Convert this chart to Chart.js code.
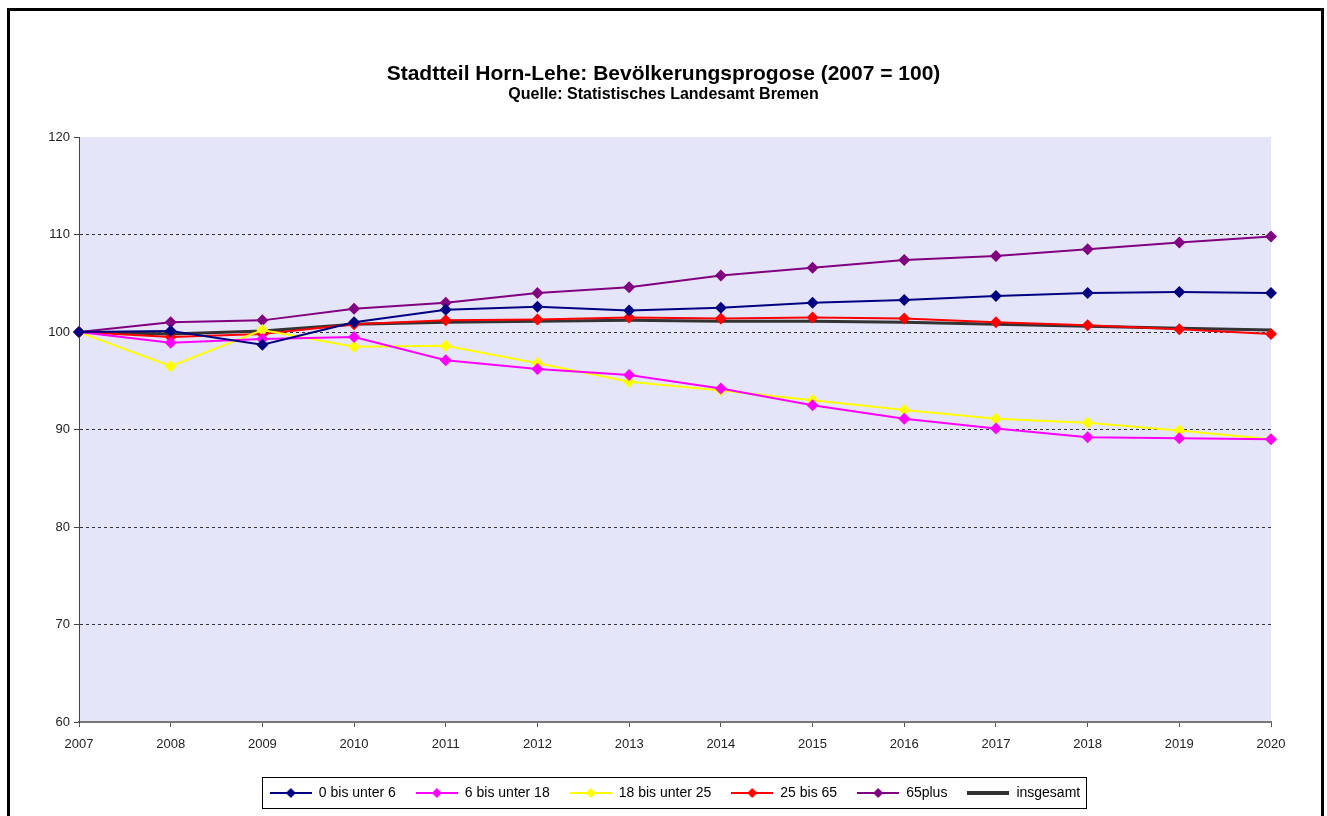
<!DOCTYPE html>
<html>
<head>
<meta charset="utf-8">
<title>Stadtteil Horn-Lehe: Bevölkerungsprogose</title>
<script src="https://cdn.jsdelivr.net/npm/chart.js@4/dist/chart.umd.min.js"></script>
<style>
  html, body { margin: 0; padding: 0; background: #fff; overflow: hidden; }
  #frame {
    position: absolute; left: 7px; top: 8px; width: 1317px; height: 900px;
    border: 3px solid #000; box-sizing: border-box;
  }
  #wrap { position: absolute; left: 0; top: 0; width: 1327px; height: 816px; }
</style>
</head>
<body>
<div id="frame"></div>
<div id="wrap"><canvas id="canvas-prognose"></canvas></div>
<script>
// Jahre (x-Achse)
var years = ['2007', '2008', '2009', '2010', '2011', '2012', '2013',
             '2014', '2015', '2016', '2017', '2018', '2019', '2020'];

// Altersgruppen, Index 2007 = 100
var bis6      = [100, 100.1, 98.7, 101.0, 102.3, 102.6, 102.2, 102.5, 103.0, 103.3, 103.7, 104.0, 104.1, 104.0];
var bis18     = [100, 98.9, 99.3, 99.5, 97.1, 96.2, 95.6, 94.2, 92.5, 91.1, 90.1, 89.2, 89.1, 89.0];
var bis25     = [100, 96.5, 100.2, 98.5, 98.6, 96.8, 94.9, 94.0, 93.0, 92.0, 91.1, 90.7, 89.9, 89.0];
var bis65     = [100, 99.5, 99.8, 100.8, 101.2, 101.3, 101.5, 101.4, 101.5, 101.4, 101.0, 100.7, 100.3, 99.8];
var plus65    = [100, 101.0, 101.2, 102.4, 103.0, 104.0, 104.6, 105.8, 106.6, 107.4, 107.8, 108.5, 109.2, 109.8];
var insgesamt = [100, 99.8, 100.1, 100.8, 101.0, 101.1, 101.2, 101.1, 101.1, 101.0, 100.8, 100.6, 100.4, 100.2];

var yTicks = [60, 70, 80, 90, 100, 110, 120];

var FONT = '"Liberation Sans", Arial, sans-serif';

// kleine Legenden-Symbole wie in Excel: Linie mit Raute
function legendIcon(color, withDiamond, lw) {
    var c = document.createElement('canvas');
    c.width = 42; c.height = 12;
    var ctx = c.getContext('2d');
    ctx.strokeStyle = color;
    ctx.lineWidth = lw;
    ctx.beginPath();
    ctx.moveTo(0, 6); ctx.lineTo(42, 6);
    ctx.stroke();
    if (withDiamond) {
        ctx.fillStyle = color;
        ctx.beginPath();
        ctx.moveTo(21, 1); ctx.lineTo(26, 6); ctx.lineTo(21, 11); ctx.lineTo(16, 6);
        ctx.closePath();
        ctx.fill();
    }
    return c;
}

function serie(label, data, color, lw, diamond) {
    return {
        label: label,
        data: data,
        borderColor: color,
        backgroundColor: color,
        borderWidth: lw,
        pointStyle: diamond ? 'rectRot' : false,
        pointRadius: diamond ? 6 : 0,
        pointBorderWidth: 0,
        pointBackgroundColor: color,
        tension: 0,
        fill: false,
        icon: legendIcon(color, diamond, diamond ? 2 : 4)
    };
}

var plotBg = {
    id: 'plotBg',
    beforeDraw: function(chart) {
        var a = chart.chartArea, ctx = chart.ctx;
        ctx.save();
        ctx.fillStyle = '#E5E5F9';
        ctx.fillRect(a.left, a.top, a.right - a.left, a.bottom - a.top);
        ctx.restore();
    }
};

var legendFrame = {
    id: 'legendFrame',
    afterDraw: function(chart) {
        var boxes = chart.legend.legendHitBoxes;
        if (!boxes || !boxes.length) return;
        var l = Infinity, r = -Infinity, t = Infinity, b = -Infinity;
        boxes.forEach(function(h) {
            l = Math.min(l, h.left); r = Math.max(r, h.left + h.width);
            t = Math.min(t, h.top); b = Math.max(b, h.top + h.height);
        });
        var ctx = chart.ctx;
        ctx.save();
        ctx.strokeStyle = '#000';
        ctx.lineWidth = 1;
        ctx.strokeRect(Math.round(l - 8) + 0.5, Math.round(t - 9) + 0.5,
                       Math.round(r - l + 14), Math.round(b - t + 17));
        ctx.restore();
    }
};

var config = {
    type: 'line',
    data: {
        labels: years,
        datasets: [
            serie('0 bis unter 6', bis6, '#000080', 2, true),
            serie('6 bis unter 18', bis18, '#FF00FF', 2, true),
            serie('18 bis unter 25', bis25, '#FFFF00', 2, true),
            serie('25 bis 65', bis65, '#FF0000', 2, true),
            serie('65plus', plus65, '#800080', 2, true),
            serie('insgesamt', insgesamt, '#333333', 3, false)
        ]
    },
    options: {
        responsive: true,
        maintainAspectRatio: false,
        animation: false,
        layout: { padding: { left: 33, right: 33, top: 0, bottom: 6 } },
        plugins: {
            title: {
                display: true,
                text: 'Stadtteil Horn-Lehe: Bevölkerungsprogose (2007 = 100)',
                color: '#000',
                font: { family: FONT, size: 21, weight: 'bold', lineHeight: 1.1 },
                padding: { top: 63, bottom: 0 }
            },
            subtitle: {
                display: true,
                text: 'Quelle: Statistisches Landesamt Bremen',
                color: '#000',
                font: { family: FONT, size: 16, weight: 'bold', lineHeight: 1.0 },
                padding: { top: 0, bottom: 35 }
            },
            legend: {
                position: 'bottom',
                fullSize: false,
                labels: {
                    color: '#000',
                    font: { family: FONT, size: 14 },
                    usePointStyle: true,
                    pointStyleWidth: 42,
                    padding: 20,
                    generateLabels: function(chart) {
                        return chart.data.datasets.map(function(ds, i) {
                            return {
                                text: ds.label,
                                pointStyle: ds.icon,
                                fillStyle: ds.borderColor,
                                strokeStyle: ds.borderColor,
                                lineWidth: 0,
                                hidden: false,
                                datasetIndex: i,
                                fontColor: '#000'
                            };
                        });
                    }
                }
            },
            tooltip: { enabled: false }
        },
        scales: {
            x: {
                offset: false,
                grid: { display: true, drawOnChartArea: false, tickLength: 5, tickColor: '#555' },
                border: { color: '#777', width: 2 },
                ticks: { color: '#222', font: { family: FONT, size: 13 }, padding: 10, maxRotation: 0, autoSkip: false },
                afterFit: function(scale) { scale.height = 44; }
            },
            y: {
                min: 60,
                max: 120,
                afterBuildTicks: function(scale) {
                    scale.ticks = yTicks.map(function(v) { return { value: v }; });
                },
                afterFit: function(scale) { scale.width = 46; },
                grid: {
                    color: function(ctx) {
                        var v = ctx.tick ? ctx.tick.value : null;
                        return (v === 60 || v === 120) ? 'rgba(0,0,0,0)' : '#333';
                    },
                    lineWidth: 1,
                    tickLength: 5,
                    tickColor: '#444'
                },
                border: { color: '#444', width: 1, dash: [3, 3] },
                ticks: { color: '#222', font: { family: FONT, size: 13 }, padding: 4 }
            },
            // leere Achse rechts, nur als Abstand, damit der Titel mittig ueber dem Blatt steht
            rand: {
                type: 'linear',
                position: 'right',
                min: 0,
                max: 1,
                grid: { display: false },
                border: { display: false },
                ticks: { display: false },
                afterFit: function(scale) { scale.width = 23; }
            }
        }
    },
    plugins: [plotBg, legendFrame]
};

var prognoseChart = new Chart(document.getElementById('canvas-prognose'), config);
</script>
</body>
</html>
